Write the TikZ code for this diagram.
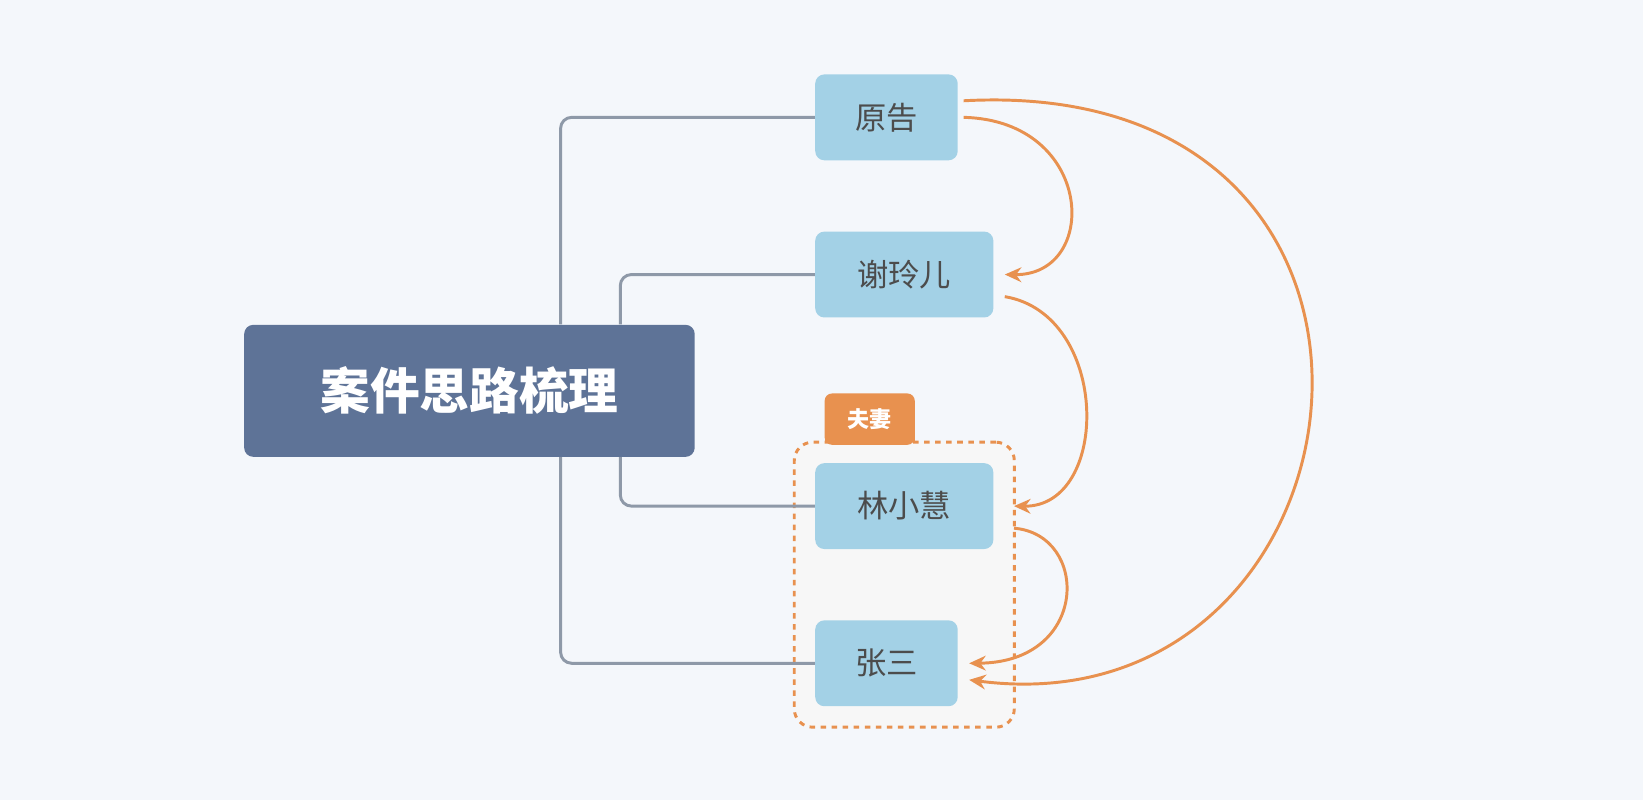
\documentclass[tikz,border=0pt]{standalone}
\usepackage{fontspec}
\setmainfont{Noto Sans CJK SC}
\usetikzlibrary{arrows.meta,calc}
\definecolor{bgcol}{HTML}{F4F7FB}
\definecolor{rootcol}{HTML}{5E7397}
\definecolor{leafcol}{HTML}{A3D1E6}
\definecolor{linecol}{HTML}{8E99A8}
\definecolor{relcol}{HTML}{E8914F}
\tikzset{
    root/.style = {
        fill = rootcol,
        text = white,
        rounded corners = 5pt,
        font = \bfseries\fontsize{27}{30}\selectfont,
        },
    leaf/.style = {
        fill = leafcol,
        text = black!70,
        rounded corners = 5pt,
        minimum height = 82*0.02cm,
        font = \fontsize{17}{20}\selectfont,
        },
    branch/.style = {
        draw = linecol,
        line width = 1.6pt,
        rounded corners = 6pt,
        },
    relation/.style = {
        draw = relcol,
        line width = 1.6pt,
        -{Stealth[length=9pt,width=8pt]},
        },
}
\begin{document}
\begin{tikzpicture}[x=0.02cm,y=-0.02cm]
    \fill[bgcol] (0,0) rectangle (1568,763);
    \useasboundingbox (0,0) rectangle (1568,763);

    % group box and tag
    \node[draw=relcol, fill=black!3, dashed, line width=1.6pt, rounded corners=10pt,
          minimum width=210*0.02cm, minimum height=272*0.02cm] (grp) at (863,558) {};
    \node[fill=relcol, text=white, rounded corners=4pt, font=\bfseries\fontsize{12}{14}\selectfont,
          minimum width=86*0.02cm, minimum height=49*0.02cm] (tag) at (830,400) {夫妻};
    \fill[relcol] (787,410) rectangle (873,422);

    \node[root, minimum width=430*0.02cm, minimum height=126*0.02cm] (R) at (448,373) {案件思路梳理};
    \node[leaf, minimum width=136*0.02cm] (yg) at (846,112) {原告};
    \node[leaf, minimum width=170*0.02cm] (xl) at (863,262) {谢玲儿};
    \node[leaf, minimum width=170*0.02cm] (lx) at (863,483) {林小慧};
    \node[leaf, minimum width=136*0.02cm] (zs) at (846,633) {张三};

    \draw[branch] (R.north -| 535,0) |- (yg.west);
    \draw[branch] (R.north -| 592,0) |- (xl.west);
    \draw[branch] (R.south -| 592,0) |- (lx.west);
    \draw[branch] (R.south -| 535,0) |- (zs.west);

    \draw[relation] ([xshift=3pt,yshift=0pt]yg.east) .. controls (1045,115) and (1050,263) .. ([xshift=6pt]xl.east);
    \draw[relation] ([xshift=3pt,yshift=9pt]yg.east) .. controls (1400,70) and (1320,700) .. ([xshift=6pt,yshift=-9pt]zs.east);
    \draw[relation] ([xshift=6pt,yshift=-12pt]xl.east) .. controls (1060,300) and (1060,484) .. ([xshift=11pt]lx.east);
    \draw[relation] ([xshift=11pt,yshift=-12pt]lx.east) .. controls (1040,510) and (1040,632) .. ([xshift=6pt]zs.east);
\end{tikzpicture}
\end{document}
